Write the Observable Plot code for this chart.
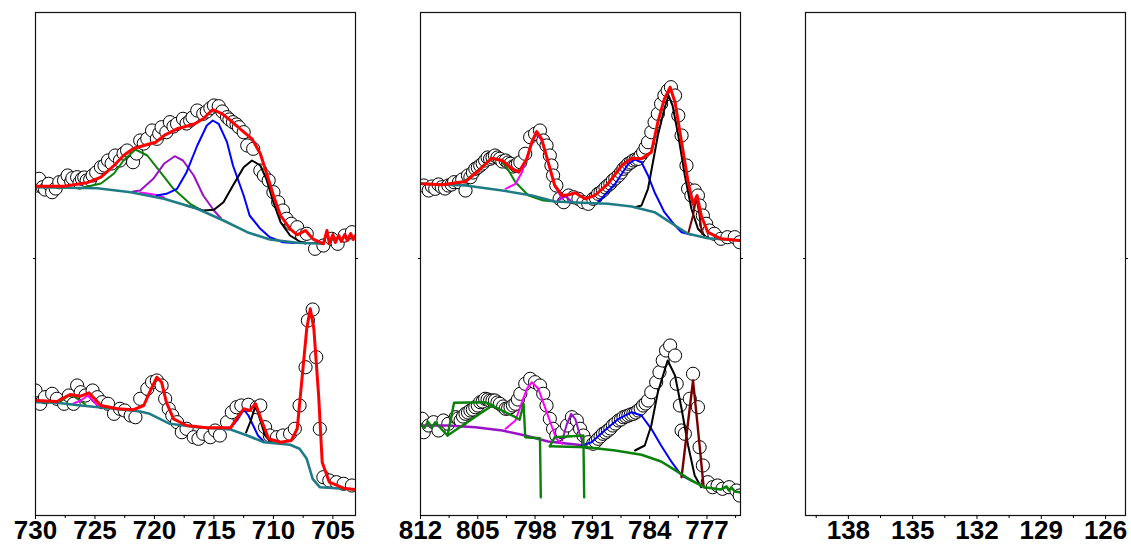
<!DOCTYPE html>
<html><head><meta charset="utf-8">
<script src="https://cdn.jsdelivr.net/npm/d3@7"></script>
<script src="https://cdn.jsdelivr.net/npm/@observablehq/plot@0.6"></script>
<style>
body{margin:0;background:#fff;}
#row{display:flex;width:1131px;height:545px;}
#row svg{overflow:visible;flex:none;}
#row svg text{font-weight:bold;}
</style></head><body><div id="row"></div>
<script>
// ---------- tick values ----------
const p1Major = [730, 725, 720, 715, 710, 705];
const p1Minor = [727.5, 722.5, 717.5, 712.5, 707.5];
const p2Major = [812, 805, 798, 791, 784, 777];
const p2Minor = [808.5, 801.5, 794.5, 787.5, 780.5, 773.5];
const p3Major = [138, 135, 132, 129, 126];
const p3Minor = [139.5, 136.5, 133.5, 130.5, 127.5];

// ---------- panel 1, upper spectrum: [binding energy, intensity a.u.] ----------
const p1tPts = [[729.9,330],[729.7,336.7],[729.4,328.3],[729.2,326],[728.9,331.7],[728.6,323.3],[728.3,327],[728.0,333.3],[727.6,335],[727.3,340],[727.0,334],[726.9,337.3],[726.5,338.3],[726.3,333],[726.1,336.7],[725.9,338],[725.7,335],[725.4,336],[725.2,340],[724.9,343],[724.5,348.3],[724.2,350],[723.9,355],[723.6,352],[723.3,360],[722.9,355],[722.6,362],[722.3,365],[721.8,353.3],[721.5,362],[721.2,375],[720.9,372],[720.6,376.7],[720.2,385],[719.8,376.7],[719.6,382],[719.4,388.3],[719.0,383.3],[718.7,393.3],[718.4,389],[718.1,391.7],[717.6,396.7],[717.3,392],[717.0,395],[716.8,398],[716.4,405],[715.9,401.7],[715.6,404],[715.3,407.3],[715.0,410],[714.6,409.3],[714.3,404],[713.9,398.3],[713.7,396],[713.4,393.3],[713.1,391],[712.9,388.3],[712.5,383.3],[712.2,370],[711.7,366.7],[711.1,345],[710.8,340],[710.4,335],[710.0,323.3],[709.6,313.3],[709.2,305],[708.9,296.7],[708.5,291.7],[708.0,288.3],[707.6,280],[707.2,281.7],[706.5,266.7],[705.8,270],[705.1,276.7],[704.6,271.7],[704.0,280],[703.4,283.3]];
const p1tFit = [[730,329.3],[727.6,329.3],[725.7,332.7],[724.5,338.3],[723.4,350],[722.6,360],[721.8,366.7],[720.9,370],[719.9,373.3],[719.1,380.7],[718.1,386.7],[717.6,388.3],[716.6,391.7],[715.9,396.7],[715.1,406],[714.3,401.7],[713.6,395],[712.8,386.7],[711.8,376.7],[711.1,361.7],[710.6,343.3],[710.0,320],[709.4,300],[708.6,286.7],[708.0,280.7],[707.3,285],[706.7,276.7],[705.8,271.7],[705.5,285],[705.3,272],[705.0,281],[704.8,273],[704.5,280],[704.3,274],[704.0,281],[703.8,275],[703.5,282],[703.3,276],[703.1,280]];
const p1tBg = [[730,328.3],[724.8,327.3],[722.0,323.3],[719.2,316.7],[716.4,306.7],[714.2,295],[712.2,283.3],[710.3,276],[708.0,272.7],[705.8,271.7]];
const p1tGreen = [[726,328],[724.5,332],[723.4,342],[722.6,355],[721.6,366],[720.6,360],[719.5,343.3],[718.4,326.7],[717.0,311.7],[716.0,305]];
const p1tViolet = [[721.8,324],[721.2,325],[720.1,336.7],[719.2,351.7],[718.3,359.3],[717.6,355],[716.7,340],[715.9,320],[715.0,305],[714.4,297]];
const p1tMagenta = [[721.2,323],[720.6,322],[719.8,320.5],[719.2,318]];
const p1tBlue = [[719.8,320],[719.0,321.7],[718.1,326.7],[717.3,343.3],[716.4,370],[715.6,390],[715.1,395],[714.6,391.7],[713.9,373.3],[713.4,350],[712.5,320],[712.0,300],[711.1,286.7],[710.3,278.3],[709.2,273.3],[708.2,272.5]];
const p1tBlack = [[717.3,310],[715.9,305],[715.0,305.7],[714.2,313.3],[713.4,330],[712.5,348.3],[711.8,355],[711.1,350],[710.6,336.7],[710.0,313.3],[709.4,293.3],[708.6,280],[707.8,274],[707.3,272]];

// ---------- panel 1, lower spectrum ----------
const p1bPts = [[730,125],[729.6,111.7],[729.2,118.3],[728.6,121.7],[728.2,116.7],[727.6,111.7],[727.2,120],[726.8,111.7],[726.5,130],[726.2,123.3],[725.8,120],[725.2,125],[724.8,118.3],[724.4,113.3],[723.9,111.7],[723.4,101.7],[722.9,106.7],[722.5,105],[722.0,100],[721.6,98.3],[721.2,116.7],[720.6,126.7],[720.2,133.3],[719.8,135],[719.4,130],[719.1,116.7],[718.8,106.7],[718.5,100],[718.1,93.3],[717.7,83.3],[717.3,86.7],[716.7,78.3],[716.3,76.7],[715.9,81.7],[715.3,78.3],[714.9,85],[714.5,80],[713.9,93.3],[713.5,103.3],[713.1,108.3],[712.7,110],[712.1,110.7],[711.4,108.3],[711.1,110],[710.7,88.3],[710.3,80],[709.7,78.3],[709.2,80],[708.6,81.7],[708.2,86.7],[707.8,110],[707.3,148.3],[707.1,195],[706.7,206],[706.4,158.3],[706.1,86.7],[705.8,38.3],[705.3,35],[704.7,33.3],[704.1,31.7],[703.4,30]];
const p1bFit = [[730,115],[728.2,114],[727.1,121],[726.2,119.3],[725.5,122.7],[724.5,110],[723.1,106.7],[721.8,105.7],[720.9,110],[720.4,123.3],[719.8,138.3],[719.4,133.3],[719.0,113.3],[718.4,96.7],[717.3,90],[715.6,87.7],[713.6,87.7],[713.1,96.7],[712.5,106.7],[712.0,105],[711.5,111.7],[711.0,95],[710.4,76.7],[709.4,73.3],[708.5,75],[708.0,86.7],[707.6,136.7],[707.2,186.7],[706.9,206.7],[706.6,186.7],[706.2,120],[705.9,53.3],[705.3,33.3],[704.1,27.3],[703.1,26]];
const p1bBg = [[730,113.3],[728.2,112.7],[726.2,110],[723.4,106.7],[721.2,104],[720.4,101.7],[718.7,91.7],[716.4,88.3],[713.6,86],[712.2,80],[710.8,73.3],[708.6,70.7],[707.8,66.7],[707.2,56.7],[706.7,36.7],[706.1,28.3],[704.7,27.3],[703.1,26]];
const p1bGreen = [[728.0,113],[727.3,119],[726.9,120],[726.4,116],[725.8,111]];
const p1bMagenta = [[726.8,112],[726.2,115],[725.6,120],[725.1,114],[724.6,108]];
const p1bBlue = [[713.6,88],[713.0,96],[712.5,106],[712.1,100],[711.7,90],[711.3,80],[710.8,74]];
const p1bBlack = [[712.3,83],[711.9,95],[711.5,110],[711.1,95],[710.7,80],[710.3,74]];

// ---------- panel 2, upper spectrum ----------
const p2tPts = [[811.6,330],[811.0,325],[810.6,329],[810.2,326.7],[809.8,331],[809.4,328.3],[809.0,327],[808.6,330],[808.2,331],[807.9,333.3],[807.3,333.3],[806.9,336],[806.5,325],[806.2,340],[805.9,338.3],[805.6,343],[805.3,346.7],[805.0,348],[804.7,350],[804.4,352],[804.1,355],[803.8,358],[803.5,356.7],[803.2,358],[802.9,360],[802.6,358],[802.3,356.7],[802.0,354],[801.6,355],[801.3,353],[801.0,351.7],[800.7,349],[800.4,350],[800.1,352],[799.8,353.3],[799.2,361.7],[798.6,378.3],[798.0,381.7],[797.4,385],[797.0,375],[796.6,370],[796.2,360],[796.0,350],[795.8,340],[795.4,330],[795.0,316.7],[794.5,313.3],[793.9,320],[793.3,318.3],[792.7,316.7],[792.1,313.3],[791.5,311.7],[790.9,316.7],[790.6,318],[790.3,321.7],[790.0,323],[789.7,325],[789.4,328],[789.1,330],[788.8,332],[788.5,335],[788.2,337],[787.8,340],[787.5,343],[787.2,346.7],[786.9,349],[786.6,351.7],[786.3,353],[786.0,355],[785.7,356],[785.4,356.7],[785.1,360],[784.8,363.3],[784.5,368],[784.2,373.3],[783.8,383.3],[783.4,393.3],[783.0,401.7],[782.6,411.7],[782.2,420],[781.8,425],[781.4,428.3],[780.9,420],[780.5,400],[780.1,380],[779.5,350],[779.3,326.7],[778.9,320],[778.5,325],[778.1,320],[777.9,310],[777.5,300],[777.1,291.7],[776.7,285],[776.1,281.7],[775.3,276.7],[774.5,278.3],[773.6,278.3],[773.0,273.3]];
const p2tFit = [[811.8,331.7],[809.4,330.7],[806.5,334],[804.9,345],[803.3,357.3],[802.0,355],[800.8,346.7],[800.0,343.3],[799.0,356.7],[798.4,373.3],[797.8,384],[797.2,376.7],[796.4,353.3],[795.6,330],[794.7,320],[793.9,320.7],[793.1,322.7],[791.9,316.7],[790.7,320],[789.1,331.7],[787.4,350],[786.2,357.3],[785.0,356.7],[783.8,363.3],[783.0,393.3],[782.2,416.7],[781.5,428.3],[780.9,413.3],[780.1,373.3],[779.3,333.3],[778.7,311.7],[778.2,320],[777.7,300],[776.9,283.3],[775.3,276.7],[773.0,275]];
const p2tBg = [[811.8,331.7],[806.5,330],[802.0,325],[798.4,320],[795.6,314],[792.3,312.7],[789.1,311.7],[786.2,309],[783.4,303.3],[780.9,290],[779.3,281.7],[776.9,277.3],[773.0,275]];
const p2tGreen = [[808,330],[806.5,335],[805,345],[803.8,354],[803.0,357],[802.2,355],[801.6,350],[800.4,333.3],[798.8,320],[797,315],[795.6,314]];
const p2tMagenta = [[801.6,326.7],[800.4,331.7],[799.6,343.3],[798.8,363.3],[797.9,382.7],[797.2,375],[796.4,353.3],[795.6,330],[794.7,316.7]];
const p2tViolet = [[795.3,314],[794.7,318],[794.2,319],[793.7,315]];
const p2tBlue = [[790.3,313.3],[788.2,331.7],[786.6,351.7],[785.8,356],[785.0,353.3],[784.2,340],[783.4,323.3],[782.2,303.3],[780.9,290],[780.1,283.3],[779.0,281]];
const p2tBlack = [[785.8,308.3],[785.0,310],[784.2,326.7],[783.6,353.3],[783.0,380],[782.2,406.7],[781.7,420],[781.2,410],[780.5,380],[779.7,340],[778.9,306.7],[778.1,286.7],[777.3,280]];
const p2tMaroon = [[779.3,281.7],[778.7,300],[778.3,318.3],[777.9,300],[777.6,281.7]];

// ---------- panel 2, lower spectrum ----------
const p2bPts = [[811.8,96.7],[811.6,83.3],[811.0,90],[810.4,93.3],[809.8,85],[809.2,95],[808.6,91.7],[807.7,98.3],[807.4,97],[807.1,95],[806.8,99],[806.5,101.7],[806.2,103],[805.9,105],[805.6,106],[805.3,108.3],[805.0,110],[804.7,113.3],[804.4,114],[804.1,116.7],[803.8,116],[803.5,115],[803.2,115],[802.9,115],[802.6,113],[802.3,111.7],[801.9,109],[801.6,106.7],[801.3,107],[801.0,108.3],[800.7,110],[800.4,111.7],[800.1,116],[799.8,121.7],[799.2,131.7],[798.6,136.7],[798.0,133.3],[797.4,130],[797.0,121.7],[796.6,110],[796.2,96.7],[795.8,86.7],[795.4,80],[794.7,83.3],[794.1,90],[793.5,98.3],[792.9,95],[792.5,86.7],[792.1,80],[791.5,73.3],[790.9,71.7],[790.6,74],[790.3,76.7],[790.0,79],[789.7,81.7],[789.4,83],[789.1,85],[788.8,87],[788.5,90],[788.2,92],[787.8,95],[787.5,96],[787.2,98.3],[786.9,99],[786.6,100],[786.3,101],[786.0,101.7],[785.7,103],[785.4,105],[785.1,107],[784.8,110],[784.5,112],[784.2,115],[783.8,123.3],[783.2,133.3],[782.8,143.3],[782.4,155],[782.0,165],[781.5,170],[780.9,160],[780.7,131.7],[780.3,110],[780.1,85],[779.7,81.7],[779.1,116.7],[778.7,141.7],[778.1,108.3],[777.9,68.3],[777.5,50],[776.9,33.3],[776.3,28.3],[775.7,30],[775.1,26.7],[774.3,28.3],[773.4,25],[773.0,20]];
const p2bBgViolet = [[812,90],[808.6,90],[805.3,88.3],[802.0,85],[799.2,80],[796.4,74],[793.9,71.7],[791.9,70]];
const p2bBgGreen = [[791.7,68.3],[788.2,65],[785.0,60.7],[782.6,54],[780.5,43.3],[778.9,35],[777.3,28.3],[775.3,26],[774.6,29],[774.3,25],[774.0,28],[773.6,24],[773.0,23.3]];
const p2bGreenA = [[812.0,91.7],[811.5,87.7],[811.1,94],[810.6,88],[810.2,93.3],[809.7,88.7],[808.7,80],[807.9,112.7],[804.1,113.3],[800.4,98.3],[799.9,95.7],[799.4,111.7],[799.2,78.3],[797.4,77.3],[797.3,18.3]];
const p2bGreenB = [[808.7,80],[803.1,110.7]];
const p2bGreenC = [[796.2,69.3],[795.6,78.3],[792.1,80],[792.0,18.3]];
const p2bGreenD = [[796.2,69.3],[791.7,68.3]];
const p2bMagenta = [[801.6,86.7],[800.4,95],[799.6,113.3],[799.0,126.7],[798.4,133.3],[797.6,126.7],[796.8,108.3],[796.0,90],[795.4,76.7],[794.7,71.7]];
const p2bViolet = [[794.7,75],[794.1,91.7],[793.6,101.7],[793.1,96.7],[792.5,80],[792.1,71.7]];
const p2bBlue = [[792.3,70],[791.1,73.3],[789.5,85],[787.8,96.7],[786.2,103.3],[785.0,100],[783.8,86.7],[782.6,70],[781.3,53.3],[780.1,40],[778.9,35]];
const p2bBlack = [[785.8,65],[784.6,70],[783.8,90],[783.0,123.3],[781.8,155],[780.9,140],[780.1,106.7],[779.3,70],[778.5,40],[777.7,28.3]];
const p2bMaroon = [[780.1,38.3],[779.5,80],[778.7,135],[778.1,86.7],[777.4,28.3]];

// ---------- colours ----------
const cRed = "#ff0000", cTeal = "#1f7c86", cGreen = "#0a820a", cViolet = "#9a12c8",
      cMagenta = "#ff00ff", cBlue = "#0000ff", cBlack = "#000000", cMaroon = "#7a0000";

const dots = data => Plot.dot(data, {x: d => d[0], y: d => d[1], r: 6.6, stroke: "black", fill: "white", strokeWidth: 1, clip: true});
const ln = (data, color, w = 2) => Plot.line(data, {x: d => d[0], y: d => d[1], stroke: color, strokeWidth: w, clip: true});

function panel(xDomain, majors, minors, width, mL, mR, layers) {
  return Plot.plot({
    width, height: 545, marginTop: 12, marginBottom: 30, marginLeft: mL, marginRight: mR,
    x: {domain: xDomain}, y: {domain: [0, 503]},
    style: {fontFamily: "'Liberation Sans', Arial, sans-serif", color: "black", background: "white", overflow: "visible"},
    marks: [
      ...layers,
      Plot.frame({stroke: "#111", strokeWidth: 1.2}),
      Plot.axisX({ticks: majors, tickSize: 4, tickPadding: 1, fontSize: 26, fontWeight: "bold", label: null, tickFormat: d => String(d)}),
      Plot.axisX({ticks: minors, tickSize: 3, tickFormat: () => "", label: null}),
      Plot.axisY({ticks: [257], anchor: "left", tickSize: 2, tickFormat: () => "", label: null}),
      Plot.axisY({ticks: [257], anchor: "right", tickSize: 2, tickFormat: () => "", label: null})
    ]
  });
}

const row = document.getElementById("row");
row.append(panel([730, 703.1], p1Major, p1Minor, 385, 35, 30, [
  dots(p1tPts), dots(p1bPts),
  ln(p1tGreen, cGreen), ln(p1tMagenta, cMagenta), ln(p1tViolet, cViolet), ln(p1tBlue, cBlue), ln(p1tBlack, cBlack),
  ln(p1bGreen, cGreen), ln(p1bMagenta, cMagenta), ln(p1bBlue, cBlue), ln(p1bBlack, cBlack),
  ln(p1tBg, cTeal, 2.6), ln(p1bBg, cTeal, 2.6),
  ln(p1tFit, cRed, 3), ln(p1bFit, cRed, 3)
]));
row.append(panel([812, 772.9], p2Major, p2Minor, 385, 35, 30, [
  dots(p2tPts), dots(p2bPts),
  ln(p2tGreen, cGreen), ln(p2tMagenta, cMagenta), ln(p2tViolet, cViolet), ln(p2tBlue, cBlue), ln(p2tBlack, cBlack), ln(p2tMaroon, cMaroon),
  ln(p2tBg, cTeal, 2.6),
  ln(p2tFit, cRed, 3),
  ln(p2bBgViolet, cViolet, 2.4), ln(p2bMagenta, cMagenta), ln(p2bViolet, cViolet), ln(p2bBlue, cBlue), ln(p2bBlack, cBlack), ln(p2bMaroon, cMaroon, 2.4),
  ln(p2bBgGreen, cGreen, 2.6), ln(p2bGreenA, cGreen, 2.4), ln(p2bGreenB, cGreen, 2.4), ln(p2bGreenC, cGreen, 2.4), ln(p2bGreenD, cGreen, 2.4)
]));
row.append(panel([140, 125.07], p3Major, p3Minor, 361, 35, 6, []));
</script></body></html>
